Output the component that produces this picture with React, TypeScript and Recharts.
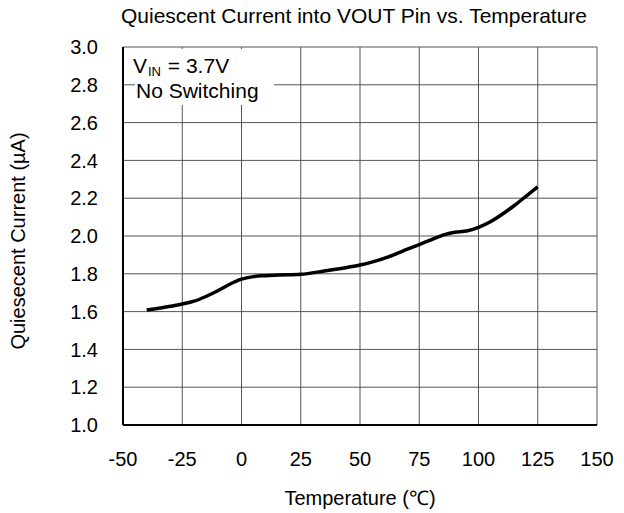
import React from "react";
import { ComposedChart, Line, XAxis, YAxis, CartesianGrid } from "recharts";

const temperatures = [-40, -30, -25, -20, -15, -10, -5, 0, 5, 10, 15, 25, 35, 45, 50, 55, 62, 70, 75, 80, 85, 90, 95, 100, 105, 110, 115, 120, 125];
const currents = [1.608, 1.628, 1.64, 1.655, 1.68, 1.71, 1.745, 1.772, 1.785, 1.79, 1.793, 1.797, 1.815, 1.835, 1.847, 1.862, 1.89, 1.93, 1.955, 1.98, 2.005, 2.02, 2.026, 2.045, 2.075, 2.115, 2.16, 2.21, 2.26];
const xTicks = [-50, -25, 0, 25, 50, 75, 100, 125, 150];
const yTicks = [1.0, 1.2, 1.4, 1.6, 1.8, 2.0, 2.2, 2.4, 2.6, 2.8, 3.0];

const title = "Quiescent Current into VOUT Pin vs. Temperature";
const xLabel = "Temperature (\u2103)";
const yLabel = "Quiesecent Current (\u00b5A)";
const legendMain = "V";
const legendSub = "IN";
const legendRest = " = 3.7V";
const legendLine2 = "No Switching";

const data = temperatures.map((t, i) => ({ t, q: currents[i] }));

const FONT = "'Liberation Sans', Arial, sans-serif";

export default function App() {
  return (
    <div style={{ position: "absolute", left: 0, top: 0, background: "#fff" }}>
      <ComposedChart
        width={624}
        height={513}
        data={data}
        margin={{ top: 47, right: 27, bottom: 0, left: 0 }}
        style={{ fontFamily: FONT }}
      >
        <CartesianGrid xAxisId="b" yAxisId="l" stroke="#555" strokeWidth={1} />
        <XAxis
          xAxisId="b"
          type="number"
          dataKey="t"
          domain={[-50, 150]}
          ticks={xTicks}
          height={88}
          tickLine={false}
          tickSize={0}
          tickMargin={27}
          axisLine={{ stroke: "#000", strokeWidth: 2 }}
          tick={{ fill: "#000", fontSize: 20, fontFamily: FONT }}
          allowDataOverflow
        />
        <XAxis
          xAxisId="top"
          orientation="top"
          type="number"
          dataKey="t"
          domain={[-50, 150]}
          ticks={xTicks}
          height={0}
          tick={false}
          tickLine={false}
          axisLine={{ stroke: "#000", strokeWidth: 2 }}
        />
        <YAxis
          yAxisId="l"
          type="number"
          domain={[1, 3]}
          ticks={yTicks}
          width={123}
          tickLine={false}
          tickSize={0}
          tickMargin={25}
          axisLine={{ stroke: "#000", strokeWidth: 2 }}
          tick={{ fill: "#000", fontSize: 20, fontFamily: FONT }}
          tickFormatter={(v: number) => v.toFixed(1)}
        />
        <YAxis
          yAxisId="r"
          orientation="right"
          type="number"
          domain={[1, 3]}
          ticks={yTicks}
          width={0}
          tick={false}
          tickLine={false}
          axisLine={{ stroke: "#000", strokeWidth: 2 }}
        />
        <Line
          xAxisId="b"
          yAxisId="l"
          type="monotone"
          dataKey="q"
          stroke="#000"
          strokeWidth={3.5}
          dot={false}
          isAnimationActive={false}
        />
        <rect x={135} y={49} width={139} height={56} fill="#fff" />
        <text x={133} y={73} fontSize={21} fontFamily={FONT} fill="#000">{legendMain}</text>
        <text x={148} y={76} fontSize={13} fontFamily={FONT} fill="#000">{legendSub}</text>
        <text x={162} y={73} fontSize={21} fontFamily={FONT} fill="#000" style={{ whiteSpace: "pre" }}>{legendRest}</text>
        <text x={136} y={98} fontSize={21} fontFamily={FONT} fill="#000">{legendLine2}</text>
        <text x={354} y={23} fontSize={21} fontFamily={FONT} fill="#000" textAnchor="middle">{title}</text>
        <text x={360} y={505} fontSize={20} fontFamily={FONT} fill="#000" textAnchor="middle">{xLabel}</text>
        <text x={25} y={241} fontSize={20} fontFamily={FONT} fill="#000" textAnchor="middle" transform="rotate(-90 25 241)">{yLabel}</text>
      </ComposedChart>
    </div>
  );
}
